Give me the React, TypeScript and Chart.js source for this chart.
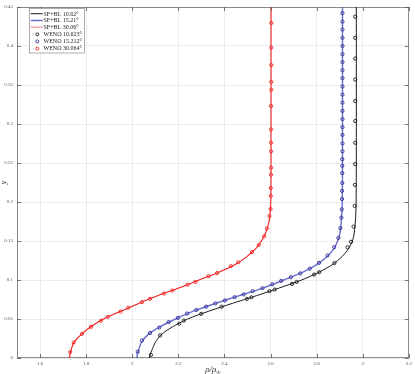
import React, { useEffect, useRef } from "react";
import { Chart, registerables } from "chart.js";

Chart.register(...registerables);

// ---- data ----
const xTicks = [1.6, 1.8, 2, 2.2, 2.4, 2.6, 2.8, 3, 3.2];
const xTickLabels = ["1.6", "1.8", "2", "2.2", "2.4", "2.6", "2.8", "3", "3.2"];
const yTicks = [0, 0.05, 0.1, 0.15, 0.2, 0.25, 0.3, 0.35, 0.4, 0.45];
const yTickLabels = ["0", "0.05", "0.1", "0.15", "0.2", "0.25", "0.3", "0.35", "0.4", "0.45"];

const seriesLabels = [
  "SF+BL 10.62°",
  "SF+BL 15.21°",
  "SF+BL 30.06°",
  "WENO 10.623°",
  "WENO 15.212°",
  "WENO 30.064°",
];

// SF+BL lines: [rho, y]
const lineBlackRho = [2.075, 2.078, 2.085, 2.1, 2.125, 2.175, 2.24, 2.332, 2.434, 2.54, 2.64, 2.735, 2.81, 2.87, 2.91, 2.938, 2.955, 2.963, 2.969, 2.971, 2.972, 2.972];
const lineBlackY = [0, 0.005, 0.01, 0.02, 0.03, 0.04, 0.05, 0.06, 0.07, 0.08, 0.09, 0.1, 0.11, 0.12, 0.13, 0.14, 0.15, 0.16, 0.18, 0.2, 0.25, 0.45];

const lineBlueRho = [2.02, 2.022, 2.027, 2.04, 2.068, 2.12, 2.188, 2.265, 2.361, 2.464, 2.57, 2.657, 2.74, 2.802, 2.845, 2.874, 2.891, 2.901, 2.908, 2.911, 2.912, 2.912];
const lineBlueY = [0, 0.005, 0.01, 0.02, 0.03, 0.04, 0.05, 0.06, 0.07, 0.08, 0.09, 0.1, 0.11, 0.12, 0.13, 0.14, 0.15, 0.16, 0.18, 0.2, 0.25, 0.45];

const lineRedRho = [1.728, 1.73, 1.734, 1.747, 1.778, 1.82, 1.875, 1.95, 2.028, 2.112, 2.205, 2.29, 2.375, 2.447, 2.497, 2.535, 2.56, 2.578, 2.589, 2.596, 2.601, 2.602, 2.602];
const lineRedY = [0, 0.005, 0.01, 0.02, 0.03, 0.04, 0.05, 0.06, 0.07, 0.08, 0.09, 0.1, 0.11, 0.12, 0.13, 0.14, 0.15, 0.16, 0.17, 0.18, 0.2, 0.25, 0.45];

// WENO points
const wenoBlackRho = [2.081, 2.121, 2.204, 2.224, 2.299, 2.388, 2.497, 2.517, 2.595, 2.618, 2.693, 2.713, 2.789, 2.811, 2.877, 2.934, 2.949, 2.96, 2.965, 2.966, 2.967, 2.967, 2.967, 2.967, 2.967, 2.967, 2.967, 2.967];
const wenoBlackY = [0.004, 0.029, 0.044, 0.048, 0.0565, 0.0658, 0.0758, 0.0778, 0.0857, 0.0877, 0.095, 0.0975, 0.107, 0.11, 0.1217, 0.142, 0.149, 0.1685, 0.195, 0.222, 0.2485, 0.276, 0.3038, 0.3295, 0.357, 0.3839, 0.4105, 0.4376];

const wenoBlueRho = [2.024, 2.042, 2.077, 2.117, 2.158, 2.198, 2.238, 2.278, 2.32, 2.361, 2.402, 2.444, 2.483, 2.522, 2.565, 2.607, 2.646, 2.688, 2.729, 2.77, 2.81, 2.847, 2.876, 2.894, 2.903, 2.907, 2.909, 2.91, 2.91, 2.911, 2.911, 2.911, 2.911, 2.912, 2.912, 2.912, 2.912, 2.912, 2.912, 2.912, 2.912, 2.912, 2.912, 2.912, 2.912, 2.912, 2.912, 2.912, 2.912, 2.912, 2.912];
const wenoBlueY = [0.008, 0.0225, 0.032, 0.039, 0.046, 0.0515, 0.057, 0.0616, 0.0658, 0.07, 0.0738, 0.078, 0.0815, 0.0857, 0.0895, 0.0945, 0.099, 0.1035, 0.1085, 0.1145, 0.122, 0.1315, 0.142, 0.154, 0.1665, 0.18, 0.1905, 0.2038, 0.2143, 0.2244, 0.237, 0.2464, 0.2548, 0.265, 0.275, 0.286, 0.296, 0.3063, 0.3168, 0.3274, 0.3376, 0.3481, 0.3587, 0.3688, 0.3794, 0.3894, 0.4, 0.4105, 0.4211, 0.4312, 0.4422];

const wenoRedRho = [1.731, 1.746, 1.782, 1.821, 1.864, 1.894, 1.949, 1.982, 2.042, 2.077, 2.138, 2.174, 2.24, 2.274, 2.331, 2.368, 2.428, 2.46, 2.519, 2.549, 2.572, 2.584, 2.595, 2.6, 2.601, 2.601, 2.602, 2.602, 2.602, 2.602, 2.602, 2.602, 2.603, 2.603, 2.603, 2.603, 2.603];
const wenoRedY = [0.0076, 0.0199, 0.031, 0.04, 0.0477, 0.0528, 0.0595, 0.0646, 0.0717, 0.0759, 0.0827, 0.0865, 0.094, 0.0975, 0.105, 0.109, 0.1177, 0.1228, 0.1358, 0.145, 0.156, 0.166, 0.182, 0.191, 0.208, 0.218, 0.235, 0.244, 0.265, 0.276, 0.293, 0.323, 0.344, 0.354, 0.3755, 0.398, 0.4295];

const zip = (xs: number[], ys: number[]) => xs.map((x, i) => ({ x, y: ys[i] }));

const colBlack = "#1a1a1a";
const colBlueLine = "rgba(60,60,190,0.75)";
const colRedLine = "#f01c1c";
const colBluePt = "#2b2b96";
const colRedPt = "#f02020";

const SERIF = "'Liberation Serif', 'DejaVu Serif', serif";

const decorPlugin = {
  id: "decor",
  beforeDatasetsDraw(chart: any) {
    const { ctx, chartArea: a } = chart;
    ctx.save();
    ctx.strokeStyle = "#8a8a8a";
    ctx.lineWidth = 1;
    ctx.strokeRect(Math.round(a.left) + 0.5, Math.round(a.top) + 0.5, Math.round(a.right - a.left) - 1, Math.round(a.bottom - a.top) - 1);
    ctx.restore();
  },
  afterDraw(chart: any) {
    const { ctx, chartArea: a, scales } = chart;
    const xs = scales.x;
    const ys = scales.y;
    ctx.save();
    // inward ticks
    ctx.strokeStyle = "#555";
    ctx.lineWidth = 0.8;
    const tl = 4;
    xTicks.forEach((v) => {
      const px = Math.round(xs.getPixelForValue(v)) + 0.5;
      ctx.beginPath();
      ctx.moveTo(px, a.bottom);
      ctx.lineTo(px, a.bottom - tl);
      ctx.moveTo(px, a.top);
      ctx.lineTo(px, a.top + tl);
      ctx.stroke();
    });
    yTicks.forEach((v) => {
      const py = Math.round(ys.getPixelForValue(v)) + 0.5;
      ctx.beginPath();
      ctx.moveTo(a.left, py);
      ctx.lineTo(a.left + tl, py);
      ctx.moveTo(a.right, py);
      ctx.lineTo(a.right - tl, py);
      ctx.stroke();
    });

    // axis titles
    ctx.fillStyle = "#333";
    ctx.textBaseline = "alphabetic";
    const cx = (a.left + a.right) / 2;
    ctx.font = `italic 9px ${SERIF}`;
    const main = "ρ/ρ";
    const wMain = ctx.measureText(main).width;
    ctx.font = `italic 6px ${SERIF}`;
    const sub = "∞";
    const wSub = ctx.measureText(sub).width;
    const startX = cx - (wMain + wSub) / 2;
    ctx.font = `italic 9px ${SERIF}`;
    ctx.fillText(main, startX, 372);
    ctx.font = `6px ${SERIF}`;
    ctx.fillText(sub, startX + wMain, 373.5);

    ctx.save();
    ctx.translate(6, (a.top + a.bottom) / 2);
    ctx.rotate(-Math.PI / 2);
    ctx.font = `italic 8px ${SERIF}`;
    ctx.textAlign = "center";
    ctx.fillText("y", 0, 0);
    ctx.restore();

    // legend
    const lx = 29.5, ly = 8.5, lw = 55, lh = 44.5;
    ctx.fillStyle = "#fff";
    ctx.fillRect(lx, ly, lw, lh);
    ctx.strokeStyle = "#9a9a9a";
    ctx.lineWidth = 0.8;
    ctx.strokeRect(lx, ly, lw, lh);
    const rows = [13.7, 20.5, 27.2, 34.4, 41.4, 48.6];
    const lineCols = [colBlack, "rgba(60,60,200,0.8)", "rgba(240,80,80,0.55)"];
    const ptCols = [colBlack, colBluePt, colRedPt];
    ctx.font = `6px ${SERIF}`;
    ctx.textAlign = "left";
    ctx.textBaseline = "middle";
    rows.forEach((ry, i) => {
      if (i < 3) {
        ctx.strokeStyle = lineCols[i];
        ctx.lineWidth = i === 0 ? 1 : 1.4;
        ctx.beginPath();
        ctx.moveTo(30.7, ry);
        ctx.lineTo(42.7, ry);
        ctx.stroke();
      } else {
        ctx.strokeStyle = ptCols[i - 3];
        ctx.lineWidth = 0.9;
        ctx.beginPath();
        ctx.arc(37.3, ry, 1.5, 0, Math.PI * 2);
        ctx.stroke();
      }
      ctx.fillStyle = "#222";
      ctx.fillText(seriesLabels[i], 43.5, ry + 0.3);
    });
    ctx.restore();
  },
};

export default function App() {
  const ref = useRef<HTMLCanvasElement | null>(null);
  useEffect(() => {
    document.body.style.margin = "0";
    const canvas = ref.current!;
    const lineDs = (label: string, data: any[], color: string, width: number) => ({
      label,
      data,
      showLine: true,
      borderColor: color,
      borderWidth: width,
      pointRadius: 0,
      tension: 0.25,
      fill: false,
      order: 2,
    });
    const ptDs = (label: string, data: any[], color: string) => ({
      label,
      data,
      showLine: false,
      borderColor: color,
      backgroundColor: "rgba(0,0,0,0)",
      pointRadius: 1.6,
      pointBorderWidth: 0.9,
      pointStyle: "circle",
      order: 1,
    });
    const chart = new Chart(canvas, {
      type: "scatter",
      data: {
        datasets: [
          lineDs(seriesLabels[0], zip(lineBlackRho, lineBlackY), colBlack, 1),
          lineDs(seriesLabels[1], zip(lineBlueRho, lineBlueY), colBlueLine, 1.4),
          lineDs(seriesLabels[2], zip(lineRedRho, lineRedY), colRedLine, 1.1),
          ptDs(seriesLabels[3], zip(wenoBlackRho, wenoBlackY), colBlack),
          ptDs(seriesLabels[4], zip(wenoBlueRho, wenoBlueY), colBluePt),
          ptDs(seriesLabels[5], zip(wenoRedRho, wenoRedY), colRedPt),
        ] as any,
      },
      options: {
        animation: false,
        responsive: false,
        events: [],
        layout: { padding: { top: 2, right: 2, left: 0, bottom: 0 } },
        plugins: { legend: { display: false }, tooltip: { enabled: false } },
        scales: {
          x: {
            type: "linear",
            min: 1.5,
            max: 3.2,
            afterBuildTicks: (s: any) => {
              s.ticks = xTicks.map((v) => ({ value: v }));
            },
            afterFit: (s: any) => {
              s.height = 16;
            },
            ticks: {
              autoSkip: false,
              maxRotation: 0,
              padding: 3,
              color: "#555",
              font: { size: 5, family: SERIF },
              callback: (v: any) => {
                const i = xTicks.findIndex((t) => Math.abs(t - v) < 1e-9);
                return i >= 0 ? xTickLabels[i] : "";
              },
            },
            grid: { color: "#ececec", lineWidth: 1, drawTicks: false },
            border: { display: false },
          },
          y: {
            type: "linear",
            min: 0,
            max: 0.45,
            afterBuildTicks: (s: any) => {
              s.ticks = yTicks.map((v) => ({ value: v }));
            },
            afterFit: (s: any) => {
              s.width = 17;
            },
            ticks: {
              autoSkip: false,
              padding: 4,
              color: "#555",
              font: { size: 5, family: SERIF },
              callback: (v: any) => {
                const i = yTicks.findIndex((t) => Math.abs(t - v) < 1e-9);
                return i >= 0 ? yTickLabels[i] : "";
              },
            },
            grid: { color: "#ececec", lineWidth: 1, drawTicks: false },
            border: { display: false },
          },
        },
      },
      plugins: [decorPlugin],
    });
    return () => chart.destroy();
  }, []);
  return (
    <div style={{ position: "absolute", left: 0, top: 0, width: 415, height: 374, background: "#fff" }}>
      <canvas ref={ref} width={415} height={374} style={{ display: "block", width: 415, height: 374 }} />
    </div>
  );
}
